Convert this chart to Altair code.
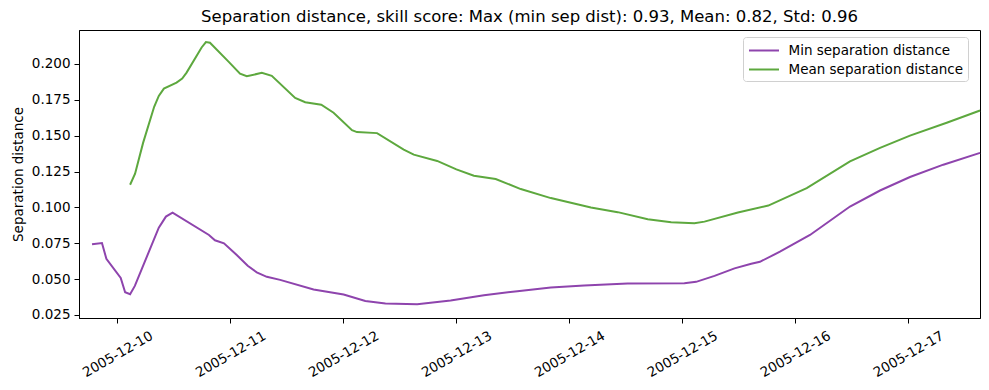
import altair as alt
import pandas as pd

# Day offsets from 2005-12-10 00:00 and values
min_days = [-0.225, -0.137, -0.098, 0.029, 0.068, 0.112, 0.154, 0.366, 0.429, 0.488,
            0.81, 0.863, 0.943, 1.056, 1.153, 1.233, 1.322, 1.44, 1.736, 2.002,
            2.194, 2.372, 2.653, 2.949, 3.244, 3.54, 3.836, 4.131, 4.516, 5.018,
            5.122, 5.285, 5.462, 5.61, 5.687, 5.864, 6.13, 6.484, 6.75, 7.015,
            7.31, 7.635]
min_vals = [0.0743, 0.0752, 0.0642, 0.0509, 0.0409, 0.0395, 0.0453, 0.0859, 0.0936, 0.0964,
            0.0808, 0.0771, 0.0750, 0.0668, 0.0593, 0.0547, 0.0516, 0.0495, 0.0428, 0.0393,
            0.0348, 0.0330, 0.0325, 0.0351, 0.0388, 0.0416, 0.0442, 0.0456, 0.0470, 0.0472,
            0.0481, 0.0523, 0.0575, 0.0607, 0.0621, 0.0691, 0.0808, 0.1006, 0.1118, 0.1212,
            0.1298, 0.1380]

mean_days = [0.112, 0.156, 0.227, 0.325, 0.366, 0.411, 0.523, 0.573, 0.612, 0.745,
             0.783, 0.819, 0.981, 1.085, 1.145, 1.278, 1.366, 1.573, 1.662, 1.804,
             1.913, 2.076, 2.12, 2.298, 2.534, 2.623, 2.83, 3.0, 3.155, 3.348,
             3.57, 3.836, 4.191, 4.428, 4.694, 4.901, 5.107, 5.196, 5.492, 5.761,
             6.101, 6.484, 6.75, 7.015, 7.34, 7.635]
mean_vals = [0.1158, 0.1235, 0.1450, 0.1702, 0.1777, 0.1828, 0.1870, 0.1898, 0.1940, 0.2115,
             0.2153, 0.2148, 0.2018, 0.1933, 0.1915, 0.1938, 0.1917, 0.1763, 0.1733, 0.1716,
             0.1660, 0.1539, 0.1525, 0.1518, 0.1403, 0.1368, 0.1324, 0.1265, 0.1221, 0.1198,
             0.1128, 0.1065, 0.0999, 0.0967, 0.0918, 0.0897, 0.0890, 0.0901, 0.0964, 0.1013,
             0.1135, 0.1321, 0.1415, 0.1501, 0.1590, 0.1676]

series = ["Min separation distance", "Mean separation distance"]
colors = ["#8E44AD", "#5DA83E"]
y_ticks = [0.025, 0.05, 0.075, 0.1, 0.125, 0.15, 0.175, 0.2]

base = pd.Timestamp("2005-12-10")
df = pd.concat([
    pd.DataFrame({"time": base + pd.to_timedelta(min_days, unit="D"), "value": min_vals, "series": series[0]}),
    pd.DataFrame({"time": base + pd.to_timedelta(mean_days, unit="D"), "value": mean_vals, "series": series[1]}),
])
df["time"] = df["time"].dt.strftime("%Y-%m-%dT%H:%M:%S")

FONT = "DejaVu Sans"

chart = alt.Chart(df).mark_line(strokeWidth=2).encode(
    x=alt.X("time:T", title=None,
            scale=alt.Scale(domain=[alt.DateTime(year=2005, month=12, date=9, hours=15, minutes=50),
                                    alt.DateTime(year=2005, month=12, date=17, hours=15, minutes=14)]),
            axis=alt.Axis(format="%Y-%m-%d", tickCount={"interval": "day", "step": 1},
                          labelAngle=330, labelAlign="center", labelBaseline="middle",
                          labelPadding=31, tickSize=5, grid=False)),
    y=alt.Y("value:Q", title="Separation distance",
            scale=alt.Scale(domain=[0.0229, 0.2237], nice=False, zero=False),
            axis=alt.Axis(values=y_ticks, format=".3f", tickSize=5, labelPadding=4,
                          titlePadding=6, grid=False)),
    color=alt.Color("series:N", scale=alt.Scale(domain=series, range=colors),
                    legend=alt.Legend(title=None, orient="none", legendX=664, legendY=7,
                                      symbolType="M-2,0L2,0", symbolSize=225, symbolStrokeWidth=2,
                                      symbolOffset=7.5,
                                      labelFontSize=13.5, labelFont=FONT, labelColor="black",
                                      labelLimit=400,
                                      padding=5, rowPadding=4, labelOffset=16,
                                      fillColor="white", strokeColor="#d0d0d0",
                                      cornerRadius=3)),
    detail="series:N",
).properties(
    width=901, height=288,
    title=alt.TitleParams("Separation distance, skill score: Max (min sep dist): 0.93, Mean: 0.82, Std: 0.96",
                          font=FONT, fontSize=16.5, fontWeight="normal", color="black",
                          anchor="middle", offset=5),
    autosize=alt.AutoSizeParams(type="none"),
    padding={"left": 71, "top": 22, "right": 1, "bottom": 70},
).configure_view(stroke="black", strokeWidth=1).configure_axis(
    labelFont=FONT, titleFont=FONT, labelFontSize=13.5, titleFontSize=13.5,
    titleFontWeight="normal", labelColor="black", titleColor="black",
    domainColor="black", tickColor="black", domain=True,
)

chart.save("out.html", embed_options={"renderer": "svg", "actions": False})
